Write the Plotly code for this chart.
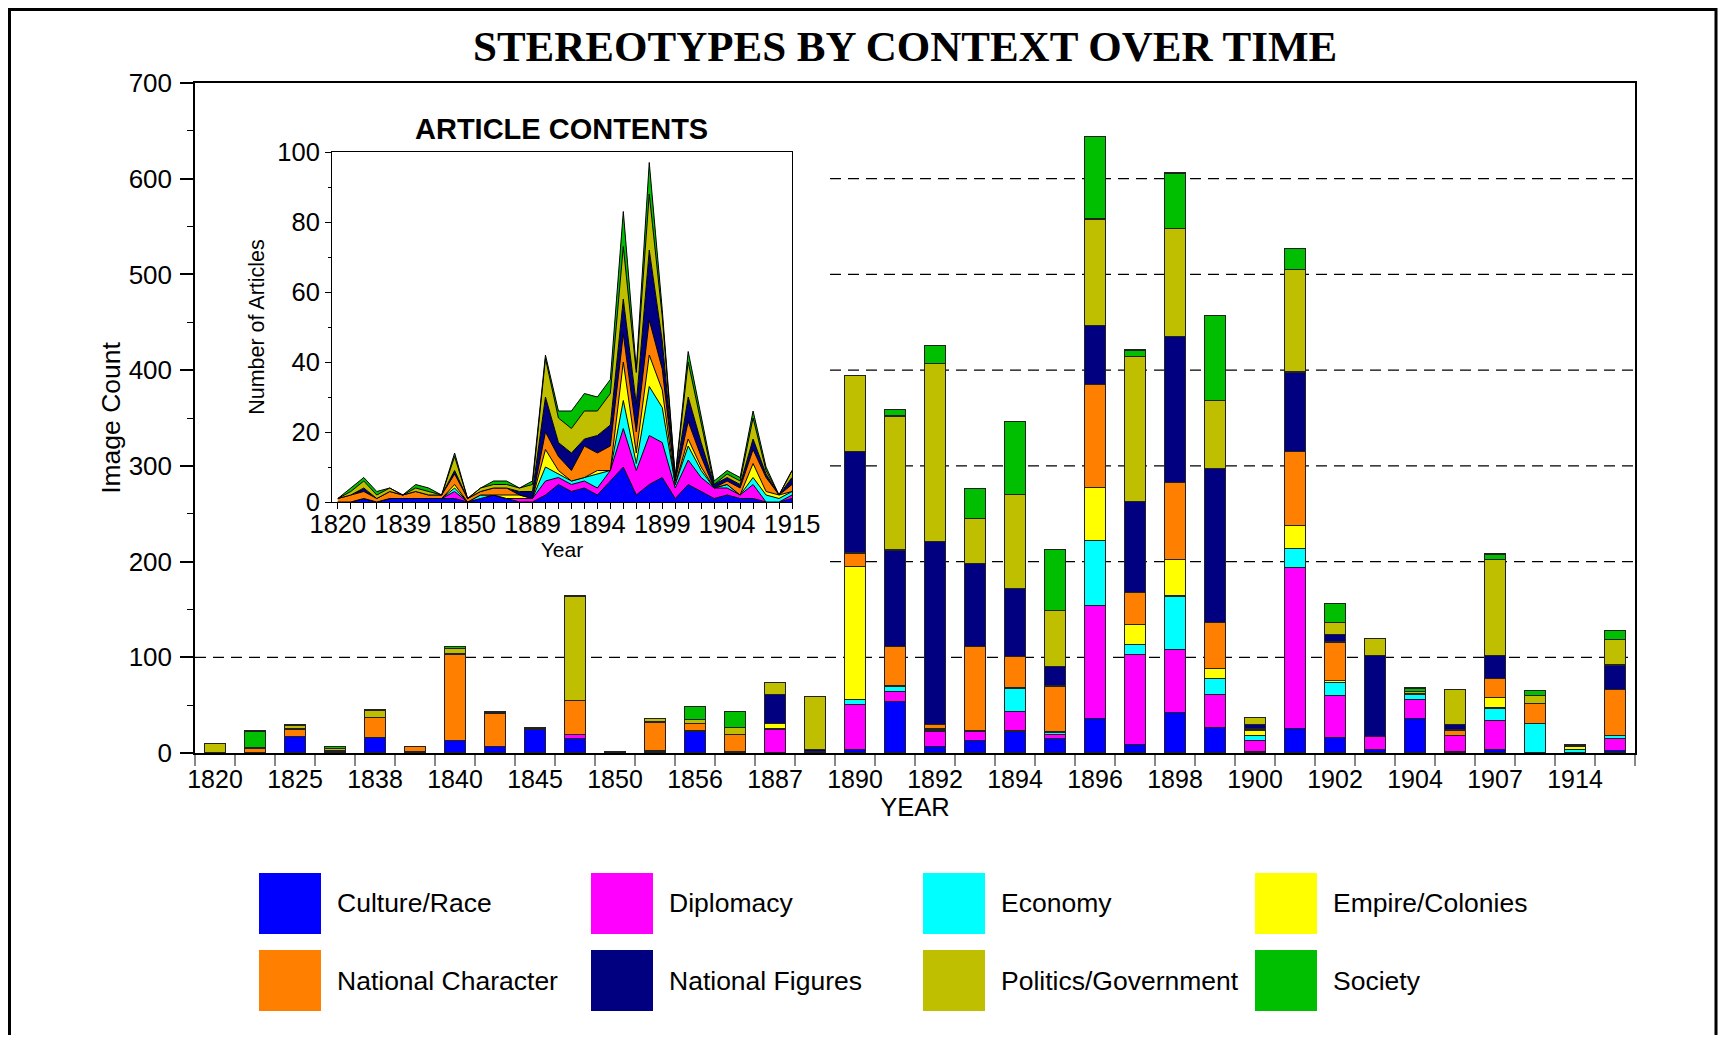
import plotly.graph_objects as go

# ---------------- data ----------------
YEARS = ["1820", "1822", "1825", "1830", "1838", "1839", "1840", "1842", "1845", "1847",
         "1850", "1853", "1856", "1860", "1887", "1889", "1890", "1891", "1892", "1893",
         "1894", "1895", "1896", "1897", "1898", "1899", "1900", "1901", "1902", "1903",
         "1904", "1905", "1907", "1910", "1914", "1915"]
MAIN_TICK_STEP = 2
INSET_TICK_STEP = 5

SERIES = ["Culture/Race", "Diplomacy", "Economy", "Empire/Colonies",
          "National Character", "National Figures", "Politics/Government", "Society"]
COLORS = ["#0000FF", "#FF00FF", "#00FFFF", "#FFFF00",
          "#FF8000", "#000080", "#BFBF00", "#00BF00"]

# image counts (main stacked bars)
culture = [0, 0, 17, 0, 16, 1, 13, 7, 25, 15, 0, 0, 23, 1, 0, 1, 4, 54, 7, 13, 23, 15, 36, 9, 42, 27, 1, 26, 16, 4, 36, 1, 4, 0, 0, 3]
diplomacy = [0, 0, 0, 0, 0, 0, 0, 0, 0, 4, 0, 0, 0, 0, 25, 0, 47, 10, 16, 10, 20, 4, 118, 94, 66, 34, 12, 168, 44, 13, 20, 17, 30, 0, 0, 12]
economy = [0, 0, 0, 0, 0, 0, 0, 0, 0, 0, 0, 2, 0, 0, 0, 0, 5, 6, 2, 0, 25, 3, 68, 10, 56, 17, 5, 20, 14, 0, 5, 0, 13, 31, 4, 3]
empire = [0, 0, 0, 0, 0, 0, 0, 0, 0, 0, 0, 0, 0, 0, 6, 0, 139, 0, 0, 0, 0, 0, 55, 21, 38, 10, 6, 24, 2, 0, 0, 0, 11, 0, 3, 0]
nat_character = [0, 5, 8, 2, 21, 6, 90, 34, 2, 36, 0, 30, 8, 18, 0, 0, 14, 41, 5, 88, 33, 48, 108, 34, 81, 48, 2, 77, 40, 0, 1, 6, 20, 21, 0, 48]
nat_figures = [0, 1, 1, 1, 0, 0, 1, 1, 0, 0, 1, 1, 0, 0, 30, 3, 106, 101, 191, 87, 71, 20, 62, 95, 152, 161, 4, 83, 8, 85, 0, 6, 24, 0, 1, 26]
politics = [10, 0, 3, 2, 8, 0, 5, 1, 0, 109, 0, 3, 4, 8, 13, 55, 79, 140, 186, 47, 98, 59, 111, 151, 113, 71, 7, 107, 12, 18, 2, 36, 100, 8, 1, 27]
society = [0, 17, 1, 2, 0, 0, 2, 0, 0, 0, 0, 0, 14, 16, 0, 0, 0, 7, 19, 31, 76, 64, 86, 7, 58, 89, 0, 22, 20, 0, 4, 0, 6, 5, 0, 9]

# article counts (inset stacked area)
a_culture = [0, 0, 1, 0, 1, 1, 1, 1, 1, 1, 0, 1, 2, 1, 0, 0, 2, 5, 3, 4, 2, 6, 10, 2, 5, 7, 1, 5, 3, 1, 2, 1, 1, 0, 0, 1]
a_diplomacy = [0, 0, 0, 0, 0, 0, 0, 0, 0, 2, 0, 0, 0, 0, 1, 1, 4, 2, 2, 2, 2, 3, 11, 7, 14, 10, 3, 7, 4, 3, 2, 1, 4, 0, 0, 1]
a_economy = [0, 0, 0, 0, 0, 0, 0, 0, 0, 1, 0, 1, 0, 0, 0, 0, 4, 1, 1, 1, 4, 0, 8, 2, 14, 10, 1, 4, 2, 0, 1, 0, 2, 2, 1, 1]
a_empire = [0, 0, 0, 0, 0, 0, 0, 0, 0, 1, 0, 0, 0, 1, 1, 0, 5, 1, 0, 0, 1, 0, 11, 3, 9, 5, 0, 2, 1, 0, 0, 0, 4, 1, 1, 0]
a_nat_character = [1, 2, 2, 1, 2, 1, 2, 1, 1, 3, 1, 1, 2, 2, 0, 0, 5, 4, 3, 9, 5, 7, 8, 6, 10, 6, 1, 5, 3, 0, 1, 2, 4, 4, 0, 2]
a_nat_figures = [0, 0, 1, 0, 0, 0, 0, 0, 0, 1, 0, 0, 0, 0, 1, 2, 10, 4, 5, 2, 5, 6, 10, 8, 20, 8, 1, 7, 4, 1, 1, 1, 3, 1, 0, 2]
a_politics = [0, 1, 2, 1, 1, 0, 1, 1, 0, 4, 0, 1, 1, 1, 1, 2, 11, 7, 7, 8, 7, 9, 15, 9, 16, 7, 0, 10, 5, 0, 1, 1, 6, 1, 0, 2]
a_society = [0, 1, 1, 1, 0, 0, 1, 1, 0, 1, 0, 0, 1, 1, 0, 1, 1, 2, 5, 5, 4, 4, 10, 1, 9, 2, 0, 3, 2, 1, 1, 1, 2, 1, 0, 0]

MAIN_VALUES = [culture, diplomacy, economy, empire, nat_character, nat_figures, politics, society]
INSET_VALUES = [a_culture, a_diplomacy, a_economy, a_empire, a_nat_character, a_nat_figures, a_politics, a_society]

GRID_FULL = [100]
GRID_PARTIAL = [200, 300, 400, 500, 600]

# ---------------- layout constants (page pixels) ----------------
PAGE_W, PAGE_H = 1726, 1043
OFF = 8                      # default body margin of the html page
W, H = PAGE_W - 2 * OFF, PAGE_H - 2 * OFF   # keep the page free of scrollbars
PLOT_L, PLOT_R, PLOT_T, PLOT_B = 195, 1635, 83, 753
ML, MR, MT, MB = PLOT_L - OFF, (W + OFF) - PLOT_R, PLOT_T - OFF, (H + OFF) - PLOT_B
PW, PH = PLOT_R - PLOT_L, PLOT_B - PLOT_T


def px(x):  # page pixel x -> paper
    return (x - PLOT_L) / PW


def py(y):  # page pixel y -> paper
    return (PLOT_B - y) / PH


SANS = "Liberation Sans, Arial, sans-serif"
SERIF = "Liberation Serif, Times New Roman, serif"

fig = go.Figure()

# main stacked bars
for name, color, vals in zip(SERIES, COLORS, MAIN_VALUES):
    fig.add_trace(go.Bar(
        x=YEARS, y=vals, name=name, marker=dict(color=color, line=dict(color="#222222", width=1.2)),
        xaxis="x", yaxis="y", showlegend=False))

# inset stacked area
for name, color, vals in zip(SERIES, COLORS, INSET_VALUES):
    fig.add_trace(go.Scatter(
        x=YEARS, y=vals, name=name, stackgroup="a", mode="lines",
        line=dict(color="black", width=1), fillcolor=color,
        xaxis="x2", yaxis="y2", showlegend=False))

main_ticktext = [y if i % MAIN_TICK_STEP == 0 else "" for i, y in enumerate(YEARS)]
inset_ticktext = [y if (i % INSET_TICK_STEP == 0) else "" for i, y in enumerate(YEARS)]

shapes = []
DASH = dict(color="black", width=1.2, dash="11px,7px")
for g in GRID_FULL:
    shapes.append(dict(type="line", xref="paper", yref="y", x0=0, x1=1, y0=g, y1=g,
                       line=DASH, layer="below"))
for g in GRID_PARTIAL:
    shapes.append(dict(type="line", xref="paper", yref="y", x0=px(830), x1=1, y0=g, y1=g,
                       line=DASH, layer="below"))

# outer frame (kept inside the figure canvas)
shapes.append(dict(type="rect", xref="paper", yref="paper", x0=px(OFF + 1.5), x1=px(OFF + W - 2),
                   y0=py(1080), y1=py(OFF + 1.5), line=dict(color="black", width=3), layer="above"))

annotations = []
# legend (large swatches)
LEG_X0, LEG_DX, LEG_W = 259, 332, 62
LEG_Y0, LEG_DY, LEG_H = 873, 77, 61
for i, (name, color) in enumerate(zip(SERIES, COLORS)):
    r, c = divmod(i, 4)
    x0 = LEG_X0 + c * LEG_DX
    y0 = LEG_Y0 + r * LEG_DY
    shapes.append(dict(type="rect", xref="paper", yref="paper",
                       x0=px(x0), x1=px(x0 + LEG_W), y0=py(y0 + LEG_H), y1=py(y0),
                       fillcolor=color, line=dict(width=0), layer="above"))
    annotations.append(dict(xref="paper", yref="paper", x=px(x0 + LEG_W + 14), y=py(y0 + LEG_H / 2),
                            text=name, showarrow=False, xanchor="left", yanchor="middle",
                            font=dict(family=SANS, size=26.5, color="black")))

# titles
annotations.append(dict(xref="paper", yref="paper", x=px(905), y=py(46),
                        text="<b>STEREOTYPES BY CONTEXT OVER TIME</b>",
                        showarrow=False, xanchor="center", yanchor="middle",
                        font=dict(family=SERIF, size=43, color="black")))
annotations.append(dict(xref="paper", yref="paper", x=px(561), y=py(129),
                        text="<b>ARTICLE CONTENTS</b>",
                        showarrow=False, xanchor="center", yanchor="middle",
                        font=dict(family=SANS, size=29, color="black")))

fig.update_layout(
    width=W, height=H,
    margin=dict(l=ML, r=MR, t=MT, b=MB, pad=0),
    paper_bgcolor="white", plot_bgcolor="rgba(0,0,0,0)",
    barmode="stack", bargap=0.46,
    showlegend=False,
    font=dict(family=SANS, color="black"),
    shapes=shapes, annotations=annotations,
    xaxis=dict(
        type="category", categoryorder="array", categoryarray=YEARS,
        range=[-0.5, len(YEARS) - 0.5], domain=[0, 1],
        tickmode="array", tickvals=YEARS, ticktext=main_ticktext, tickson="boundaries",
        ticks="outside", ticklen=11, tickwidth=2, tickcolor="#888888",
        tickfont=dict(size=25, family=SANS), tickangle=0, ticklabelstandoff=3,
        showline=True, linecolor="black", linewidth=1.5, mirror=True,
        showgrid=False, zeroline=False,
        title=dict(text="YEAR", font=dict(size=25.5, family=SANS), standoff=5),
        anchor="y",
    ),
    yaxis=dict(
        range=[0, 700], domain=[0, 1], tickmode="linear", tick0=0, dtick=100,
        ticks="outside", ticklen=13, tickwidth=1.5, tickcolor="black",
        minor=dict(dtick=50, ticks="outside", ticklen=6, tickcolor="black", tickwidth=1.2),
        tickfont=dict(size=26, family=SANS), ticklabelstandoff=3,
        showline=True, linecolor="black", linewidth=1.5, mirror=True,
        showgrid=False, zeroline=False,
        title=dict(text="Image Count", font=dict(size=26.5, family=SANS), standoff=0),
        anchor="x",
    ),
    yaxis3=dict(
        overlaying="y", side="left", anchor="x",
        range=[0, 700], tickmode="linear", tick0=0, dtick=100,
        ticks="inside", ticklen=11, tickwidth=1.5, tickcolor="black",
        minor=dict(dtick=50, ticks="inside", ticklen=6, tickcolor="black", tickwidth=1.2),
        showticklabels=False, showline=False, showgrid=False, zeroline=False,
    ),
    xaxis2=dict(
        type="category", categoryorder="array", categoryarray=YEARS,
        range=[-0.45, len(YEARS) - 1], domain=[px(332), px(792)],
        tickmode="array", tickvals=YEARS, ticktext=inset_ticktext,
        ticks="outside", ticklen=6, tickwidth=1, tickcolor="black",
        tickfont=dict(size=25.5, family=SANS), tickangle=0, ticklabelstandoff=-7,
        showline=True, linecolor="black", linewidth=1, mirror=True,
        showgrid=False, zeroline=False,
        title=dict(text="Year", font=dict(size=21, family=SANS), standoff=2),
        anchor="y2",
    ),
    yaxis2=dict(
        range=[0, 100], domain=[py(502), py(152)], tickmode="linear", tick0=0, dtick=20,
        ticks="outside", ticklen=6, tickwidth=1, tickcolor="black",
        minor=dict(dtick=10, ticks="outside", ticklen=3, tickcolor="black"),
        tickfont=dict(size=25.5, family=SANS),
        showline=True, linecolor="black", linewidth=1, mirror=True,
        showgrid=False, zeroline=False,
        title=dict(text="Number of Articles", font=dict(size=21.5, family=SANS), standoff=6),
        anchor="x2",
    ),
)

fig.write_html("out.html")
